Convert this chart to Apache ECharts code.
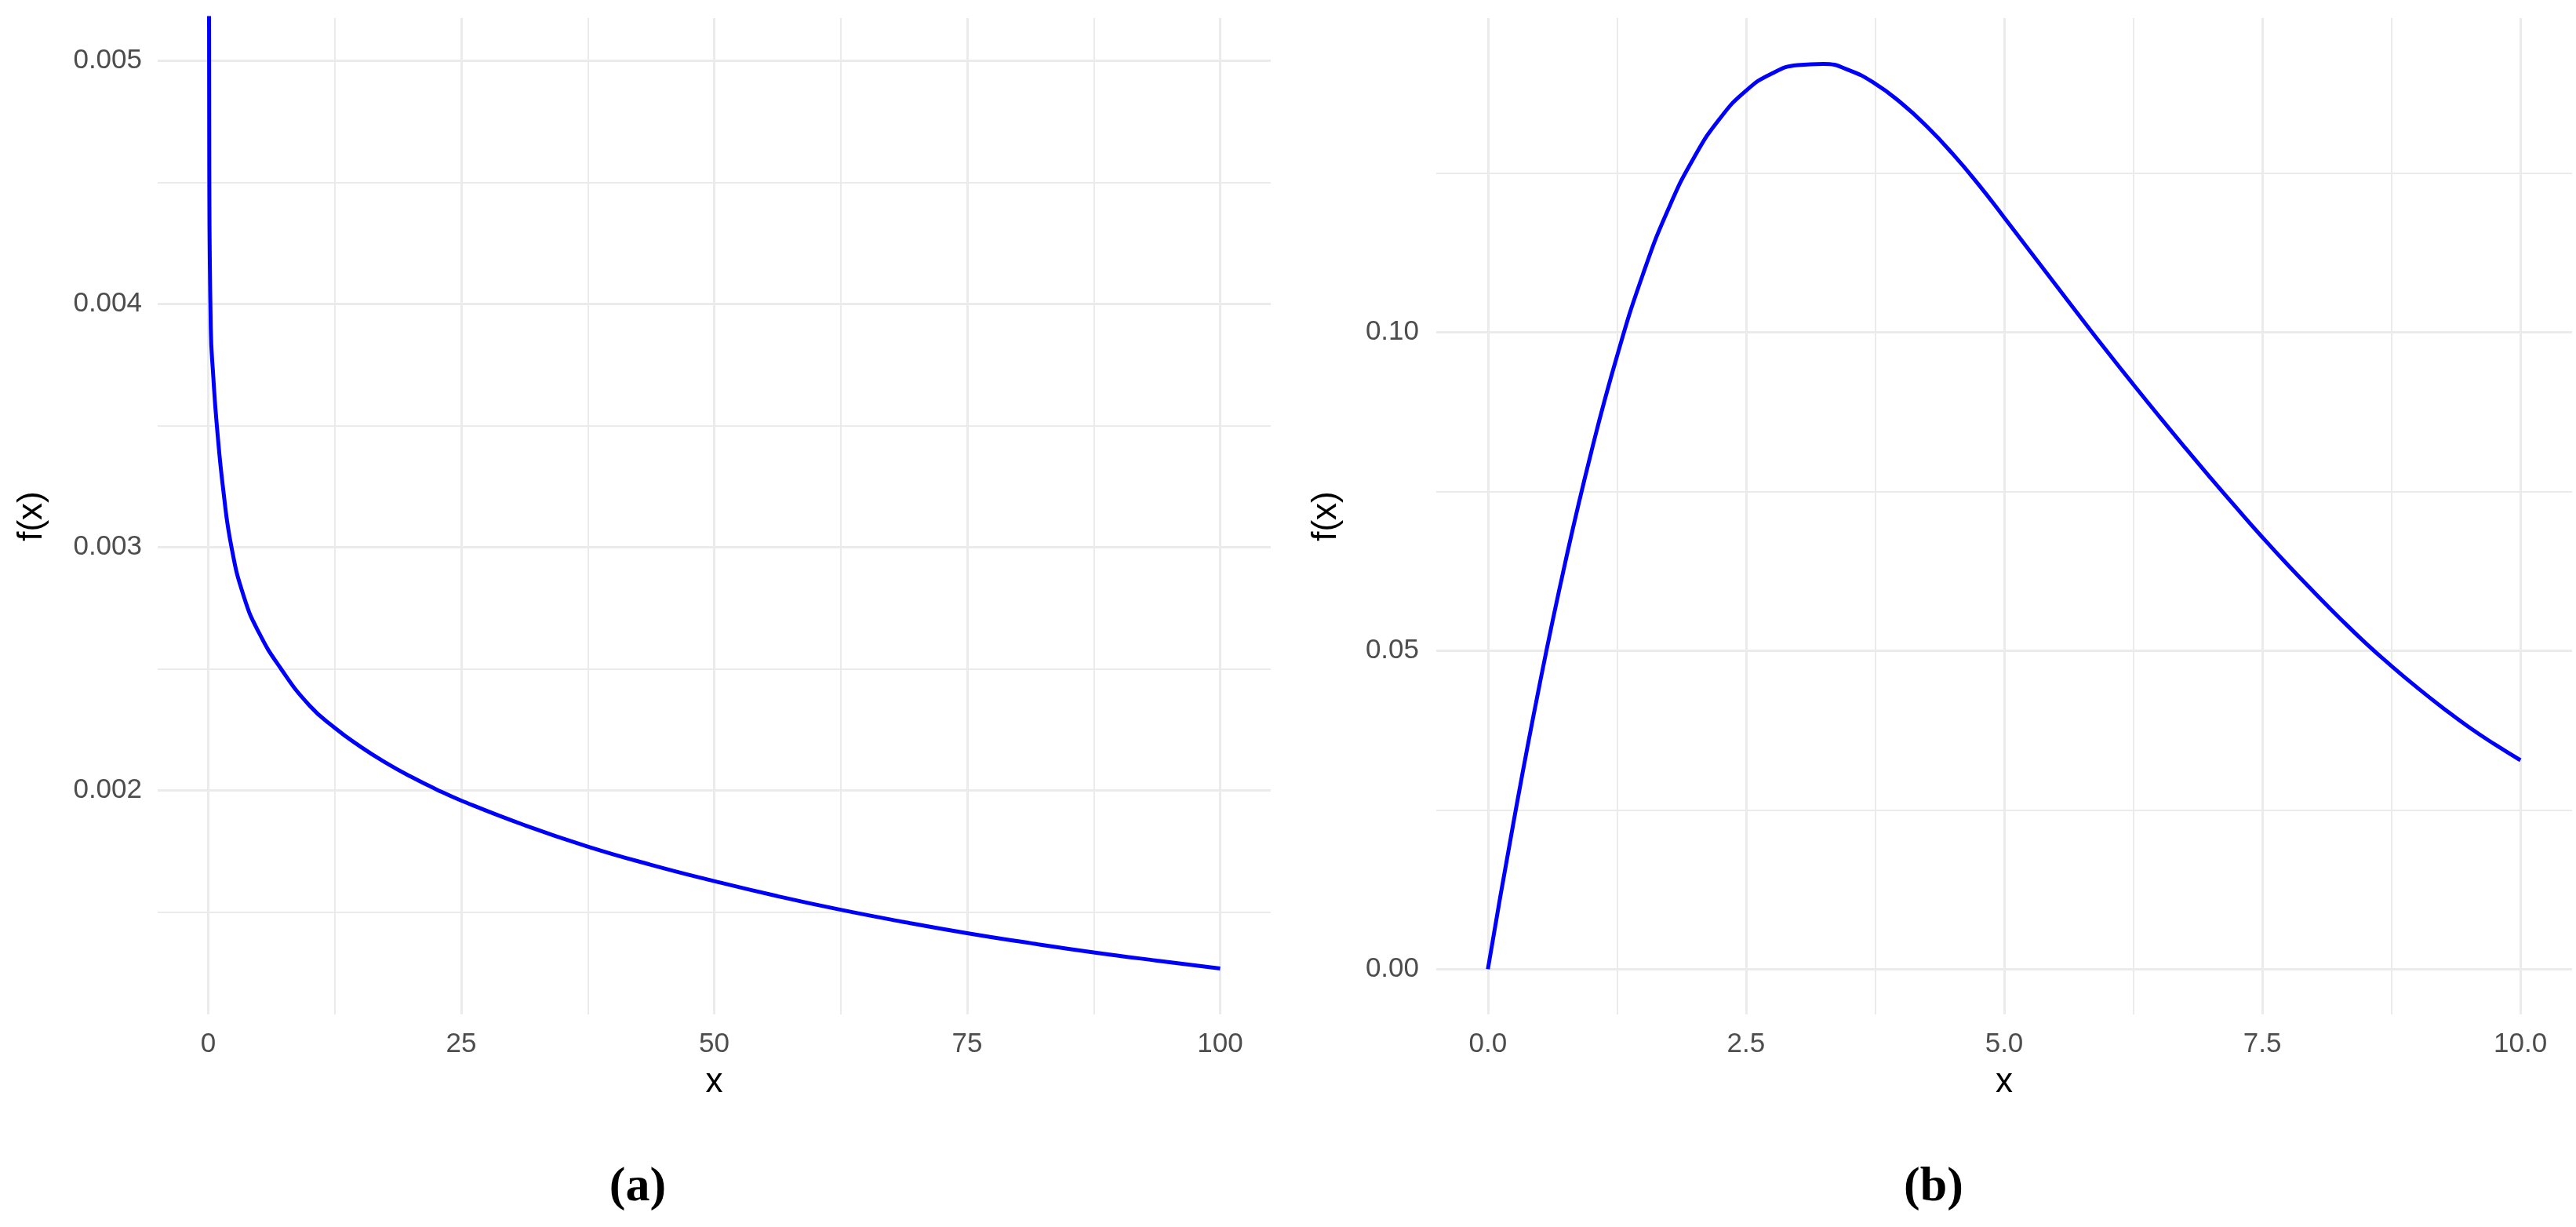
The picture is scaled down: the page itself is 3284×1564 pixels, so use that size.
<!DOCTYPE html>
<html>
<head>
<meta charset="utf-8">
<title>f(x)</title>
<script src="https://cdn.jsdelivr.net/npm/echarts@6/dist/echarts.min.js"></script>
<style>
  html, body { margin: 0; padding: 0; background: #fff; }
  #main { width: 3284px; height: 1564px; }
</style>
</head>
<body>
<div id="main"></div>
<script>
// panel (a)
const leftX = [0.03, 0.1, 0.25, 0.5, 0.85, 1.5, 2.3, 3.5, 5, 7.2, 10, 12.5, 15, 17.5, 20, 22.5, 25,
  31.25, 37.5, 43.75, 50, 56.25, 62.5, 68.75, 75, 81.25, 87.5, 93.75, 100]
const leftY = [0.0065, 0.0046, 0.0039, 0.0037, 0.0035, 0.00323, 0.0030, 0.0028, 0.00265, 0.0025, 0.00235,
  0.002258, 0.002182, 0.002116, 0.002058, 0.002006, 0.001959,
  0.001858, 0.00177, 0.001695, 0.001628, 0.001566, 0.00151, 0.00146, 0.001414, 0.001373, 0.001335, 0.001301, 0.001269]

// panel (b)
const rightX = [0, 0.25, 0.5, 0.75, 1, 1.25, 1.5, 1.75, 2, 2.25, 2.5, 2.75, 3, 3.25, 3.5, 3.75, 4, 4.25, 4.5, 4.75, 5,
  5.25, 5.5, 5.75, 6, 6.25, 6.5, 6.75, 7, 7.25, 7.5, 7.75, 8, 8.25, 8.5, 8.75, 9, 9.25, 9.5, 9.75, 10]
const rightY = [0, 0.0232, 0.0446, 0.0639, 0.0811, 0.0962, 0.109, 0.1194, 0.1275, 0.1336, 0.1379, 0.1406, 0.1419, 0.1421,
  0.1411, 0.139, 0.136, 0.1323, 0.128, 0.1232, 0.118, 0.1127, 0.1074, 0.1021, 0.0969, 0.0918, 0.0868, 0.0819,
  0.0771, 0.0724, 0.0678, 0.0634, 0.0592, 0.0551, 0.0512, 0.0476, 0.0442, 0.041, 0.038, 0.0353, 0.0328]

// ticks / grid lines
const leftXTicks = [0, 25, 50, 75, 100]
const leftXMinor = [12.5, 37.5, 62.5, 87.5]
const leftYTicks = [0.002, 0.003, 0.004, 0.005]
const leftYMinor = [0.0015, 0.0025, 0.0035, 0.0045]
const rightXTicks = [0, 2.5, 5, 7.5, 10]
const rightXMinor = [1.25, 3.75, 6.25, 8.75]
const rightYTicks = [0, 0.05, 0.1]
const rightYMinor = [0.025, 0.075, 0.125]

const gridColor = '#EBEBEB'
const labelStyle = { color: '#4D4D4D', fontSize: 35, fontFamily: 'Liberation Sans' }
const nameStyle = { color: '#000', fontSize: 44, fontFamily: 'Liberation Sans' }

function zip(xs, ys) {
  return xs.map((x, i) => [x, ys[i]])
}

// major axis: labels + thick grid lines
function majorAxis(gridIndex, min, max, ticks, fmt, margin, extra) {
  return Object.assign({
    type: 'value',
    gridIndex: gridIndex,
    min: min,
    max: max,
    axisLine: { show: false },
    axisTick: { show: false, customValues: ticks },
    axisLabel: Object.assign({ customValues: ticks, formatter: fmt, margin: margin }, labelStyle),
    splitLine: { show: true, lineStyle: { color: gridColor, width: 3 } },
    nameLocation: 'middle',
    nameTextStyle: nameStyle
  }, extra)
}

// minor axis: only thin grid lines
function minorAxis(gridIndex, min, max, ticks) {
  return {
    type: 'value',
    gridIndex: gridIndex,
    min: min,
    max: max,
    axisLine: { show: false },
    axisTick: { show: false, customValues: ticks },
    axisLabel: { show: false },
    splitLine: { show: true, lineStyle: { color: gridColor, width: 2 } }
  }
}

const chart = echarts.init(document.getElementById('main'))

const panelTag = {
  n: { fontFamily: 'Liberation Serif', fontSize: 62, color: '#000' },
  b: { fontFamily: 'Liberation Serif', fontSize: 62, fontWeight: 'bold', color: '#000' }
}

chart.setOption({
  backgroundColor: '#fff',
  animation: false,
  title: [
    { text: '{n|(}{b|a}{n|)}', left: 808, top: 1478, textAlign: 'center', textStyle: { rich: panelTag } },
    { text: '{n|(}{b|b}{n|)}', left: 2460, top: 1478, textAlign: 'center', textStyle: { rich: panelTag } }
  ],
  grid: [
    { left: 201, top: 23, width: 1419, height: 1270 },
    { left: 1831, top: 23, width: 1448, height: 1270 }
  ],
  xAxis: [
    majorAxis(0, -5, 105, leftXTicks, v => String(v), 21, { name: 'x', nameGap: 65 }),
    majorAxis(1, -0.5, 10.5, rightXTicks, v => v.toFixed(1), 21, { name: 'x', nameGap: 65 }),
    minorAxis(0, -5, 105, leftXMinor),
    minorAxis(1, -0.5, 10.5, rightXMinor)
  ],
  yAxis: [
    majorAxis(0, 0.00108, 0.005176, leftYTicks, v => v.toFixed(3), 20, { name: 'f(x)', nameGap: 138 }),
    majorAxis(1, -0.0071, 0.1493, rightYTicks, v => v.toFixed(2), 22, { name: 'f(x)', nameGap: 118 }),
    minorAxis(0, 0.00108, 0.005176, leftYMinor),
    minorAxis(1, -0.0071, 0.1493, rightYMinor)
  ],
  series: [
    {
      type: 'line',
      xAxisIndex: 0,
      yAxisIndex: 0,
      data: zip(leftX, leftY),
      showSymbol: false,
      smooth: true,
      lineStyle: { color: '#0000FF', width: 5 },
      z: 10
    },
    {
      type: 'line',
      xAxisIndex: 1,
      yAxisIndex: 1,
      data: zip(rightX, rightY),
      showSymbol: false,
      smooth: true,
      lineStyle: { color: '#0000FF', width: 5 },
      z: 10
    }
  ]
})
</script>
</body>
</html>
